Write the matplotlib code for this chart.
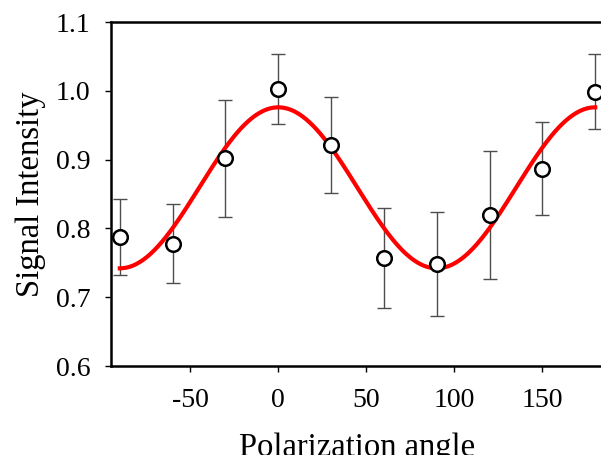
import numpy as np
import matplotlib
matplotlib.use("Agg")
import matplotlib.pyplot as plt

plt.rcParams['font.family'] = ['Liberation Serif', 'DejaVu Serif']
plt.rcParams['axes.unicode_minus'] = False

# measured points
angle = [-90, -60, -30, 0, 30, 60, 90, 120, 150, 180]
intensity = [0.788, 0.778, 0.902, 1.003, 0.921, 0.757, 0.748, 0.819, 0.887, 0.999]
err = [0.055, 0.057, 0.085, 0.051, 0.070, 0.072, 0.076, 0.093, 0.067, 0.055]

# fitted cos^2 model, parameters
fit_offset = 0.859
fit_amplitude = 0.117
fit_range = (-90, 180)

xticks = [-50, 0, 50, 100, 150]
yticks = [0.6, 0.7, 0.8, 0.9, 1.0, 1.1]

fig = plt.figure(figsize=(6.01, 4.55), dpi=100)
# axes run past the right edge, the original picture is cropped there
ax = fig.add_axes([0.1847, 0.1956, 0.8203, 0.756])

theta = np.linspace(fit_range[0], fit_range[1], 400)
fit_curve = fit_offset + fit_amplitude * np.cos(np.radians(2 * theta))

ax.errorbar(angle, intensity, yerr=err, fmt='none', ecolor='#4d4d4d',
            elinewidth=1.0, capsize=5, capthick=1.0, zorder=1)
ax.plot(theta, fit_curve, color='red', linewidth=3, zorder=2)
ax.plot(angle, intensity, 'o', markersize=10.5, markerfacecolor='white',
        markeredgecolor='black', markeredgewidth=1.8, linestyle='none', zorder=3)

ax.set_xlim(-95, 185)
ax.set_ylim(0.6, 1.1)
ax.set_xticks(xticks)
ax.set_yticks(yticks)
ax.set_yticklabels([f"{v:.1f}" for v in yticks])

ax.tick_params(direction='out', length=4, width=1, labelsize=20)
ax.tick_params(axis='x', pad=12)
ax.tick_params(axis='y', pad=11)
for side in ['left', 'bottom', 'top', 'right']:
    ax.spines[side].set_linewidth(1.8)

ax.set_xlabel('Polarization angle', fontsize=23.5, labelpad=14)
ax.set_ylabel('Signal Intensity', fontsize=23.5, labelpad=7)

fig.savefig('out.png', dpi=100)
